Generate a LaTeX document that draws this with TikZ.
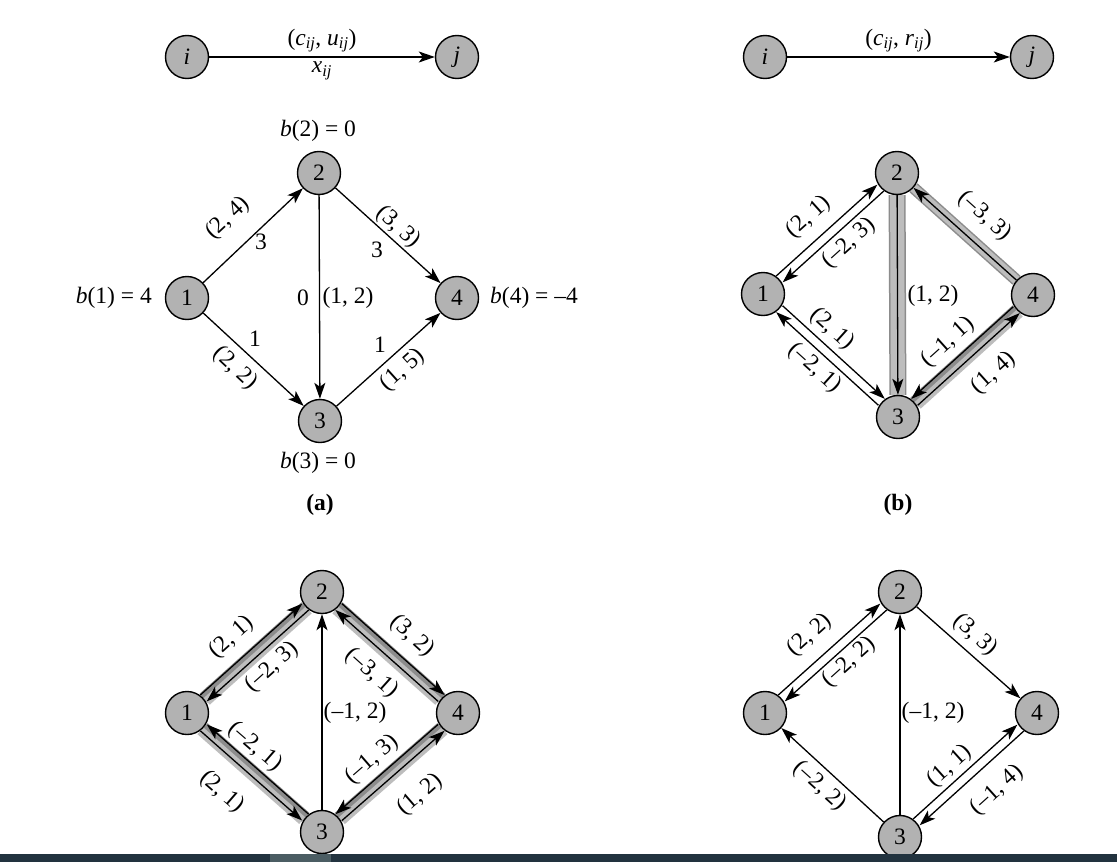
\documentclass[tikz,border=0pt]{standalone}
\usepackage{fontspec}
\setmainfont{Liberation Serif}
\usetikzlibrary{arrows.meta}
\pgfdeclarelayer{bg}
\pgfsetlayers{bg,main}
\begin{document}
\begin{tikzpicture}[x=1pt,y=-1pt,
  every node/.style={font=\fontsize{23.5}{28}\selectfont, inner sep=1pt},
  vtx/.style={circle,draw,line width=1.4pt,fill=black!30,minimum size=43pt,inner sep=0pt},
  arc/.style={line width=1.3pt,-{Stealth[length=16pt,width=11pt,inset=4pt]}},
  band/.style={draw=black!26,line width=9pt,preaction={draw=black!45,line width=12pt}},
  wideband/.style={draw=black!26,line width=14pt,preaction={draw=black!45,line width=17pt}},
  ul/.style={transform canvas={shift={(-3.2,-3.2)}}},
  dr/.style={transform canvas={shift={(3.2,3.2)}}},
  ur/.style={transform canvas={shift={(3.2,-3.2)}}},
  dl/.style={transform canvas={shift={(-3.2,3.2)}}},
  capt/.style={font=\fontsize{23.5}{28}\selectfont\bfseries}
]
\useasboundingbox (0,0) rectangle (1117,862);
\begin{pgfonlayer}{bg}
\fill[white] (0,0) rectangle (1117,862);
\end{pgfonlayer}

% ---------- legends ----------
\node[vtx] (li) at (187,57) {\textit{i}};
\node[vtx] (lj) at (457,57) {\textit{j}};
\draw[arc] (li) -- (lj)
  node[midway,above=3pt] (lcu) {(\textit{c}\textsubscript{\textit{ij}}, \textit{u}\textsubscript{\textit{ij}})}
  node[midway,below=3pt] (lx) {\textit{x}\textsubscript{\textit{ij}}};
\node[vtx] (ri) at (765,57) {\textit{i}};
\node[vtx] (rj) at (1032,57) {\textit{j}};
\draw[arc] (ri) -- (rj)
  node[midway,above=3pt] (rcr) {(\textit{c}\textsubscript{\textit{ij}}, \textit{r}\textsubscript{\textit{ij}})};

% ---------- panel (a) ----------
\node[vtx] (a1) at (187,298) {1};
\node[vtx] (a2) at (319,173) {2};
\node[vtx] (a3) at (320,421) {3};
\node[vtx] (a4) at (457,298) {4};
\node[anchor=east] (ba1) at (153,298) {\textit{b}(1) = 4};
\node (ba2) at (318,131) {\textit{b}(2) = 0};
\node (ba3) at (318,463) {\textit{b}(3) = 0};
\node[anchor=west] (ba4) at (489,298) {\textit{b}(4) = –4};
\node[capt] (capa) at (320,505) {(a)};
\draw[arc] (a1) -- (a2);
\draw[arc] (a2) -- (a4);
\draw[arc] (a2) -- (a3);
\draw[arc] (a1) -- (a3);
\draw[arc] (a3) -- (a4);
\node[rotate=43] (la1) at (228,218) {(2, 4)};
\node (la2) at (261,242) {3};
\node[rotate=-42] (la3) at (398,227) {(3, 3)};
\node (la4) at (377,250) {3};
\node (la5) at (303,298) {0};
\node (la6) at (348,298) {(1, 2)};
\node (la7) at (255,339) {1};
\node[rotate=-43] (la8) at (235,368) {(2, 2)};
\node (la9) at (380,345) {1};
\node[rotate=42] (la10) at (403,370) {(1, 5)};

% ---------- panel (b) ----------
\node[vtx] (b1) at (763,294) {1};
\node[vtx] (b2) at (897,173) {2};
\node[vtx] (b3) at (898,417) {3};
\node[vtx] (b4) at (1033,295) {4};
\node[capt] (capb) at (898,505) {(b)};
\begin{pgfonlayer}{bg}
\draw[wideband] (b2) -- (b3);
\draw[band] (b4) -- (b2);
\draw[band,dr] (b3) -- (b4);
\end{pgfonlayer}
\draw[arc,ul] (b1) -- (b2);
\draw[arc,dr] (b2) -- (b1);
\draw[arc] (b2) -- (b3);
\draw[arc] (b4) -- (b2);
\draw[arc,ur] (b1) -- (b3);
\draw[arc,dl] (b3) -- (b1);
\draw[arc,ul] (b4) -- (b3);
\draw[arc,dr] (b3) -- (b4);
\node[rotate=42] (lb1) at (809,217) {(2, 1)};
\node[rotate=42] (lb2) at (849,243) {(–2, 3)};
\node (lb3) at (933,296) {(1, 2)};
\node[rotate=-42] (lb4) at (985,216) {(–3, 3)};
\node[rotate=-42] (lb5) at (832,329) {(2, 1)};
\node[rotate=-42] (lb6) at (815,368) {(–2, 1)};
\node[rotate=42] (lb7) at (948,342) {(–1, 1)};
\node[rotate=42] (lb8) at (994,373) {(1, 4)};

% ---------- panel (c) ----------
\node[vtx] (c1) at (187,713) {1};
\node[vtx] (c2) at (322,592) {2};
\node[vtx] (c3) at (322,832) {3};
\node[vtx] (c4) at (458,713) {4};
\begin{pgfonlayer}{bg}
\draw[band,dr] (c2) -- (c1);
\draw[band,dl] (c4) -- (c2);
\draw[band,dl] (c1) -- (c3);
\draw[band,dr] (c3) -- (c4);
\end{pgfonlayer}
\draw[arc,ul] (c1) -- (c2);
\draw[arc,dr] (c2) -- (c1);
\draw[arc,ur] (c2) -- (c4);
\draw[arc,dl] (c4) -- (c2);
\draw[arc] (c3) -- (c2);
\draw[arc,ur] (c3) -- (c1);
\draw[arc,dl] (c1) -- (c3);
\draw[arc,ul] (c4) -- (c3);
\draw[arc,dr] (c3) -- (c4);
\node[rotate=42] (lc1) at (232,637) {(2, 1)};
\node[rotate=42] (lc2) at (272,667) {(–2, 3)};
\node[rotate=-42] (lc3) at (412,636) {(3, 2)};
\node[rotate=-42] (lc4) at (372,673) {(–3, 1)};
\node (lc5) at (355,713) {(–1, 2)};
\node[rotate=-41] (lc6) at (255,747) {(–2, 1)};
\node[rotate=-41] (lc7) at (222,792) {(2, 1)};
\node[rotate=41] (lc8) at (372,760) {(–1, 3)};
\node[rotate=41] (lc9) at (420,795) {(1, 2)};

% ---------- panel (d) ----------
\node[vtx] (d1) at (765,713) {1};
\node[vtx] (d2) at (900,592) {2};
\node[vtx] (d3) at (900,837) {3};
\node[vtx] (d4) at (1037,713) {4};
\draw[arc,ul] (d1) -- (d2);
\draw[arc,dr] (d2) -- (d1);
\draw[arc] (d2) -- (d4);
\draw[arc] (d3) -- (d2);
\draw[arc] (d3) -- (d1);
\draw[arc,ul] (d3) -- (d4);
\draw[arc,dr] (d4) -- (d3);
\node[rotate=42] (ld1) at (810,635) {(2, 2)};
\node[rotate=42] (ld2) at (849,662) {(–2, 2)};
\node[rotate=-42] (ld3) at (975,635) {(3, 3)};
\node (ld4) at (933,713) {(–1, 2)};
\node[rotate=-42] (ld5) at (820,786) {(–2, 2)};
\node[rotate=42] (ld6) at (950,766) {(1, 1)};
\node[rotate=42] (ld7) at (997,790) {(–1, 4)};

% ---------- bottom bar ----------
\fill[fill={rgb,255:red,34;green,51;blue,63}] (0,854) rectangle (1117,862);
\fill[fill={rgb,255:red,75;green,93;blue,99}] (270,854) rectangle (331,862);
\end{tikzpicture}
\end{document}
